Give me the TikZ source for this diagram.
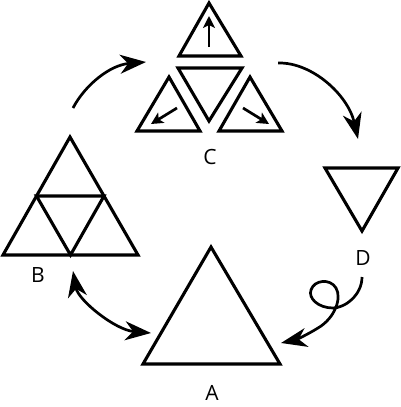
\documentclass[tikz,border=0pt]{standalone}
\usepackage{fontspec}
\setmainfont{Open Sans}
\usetikzlibrary{arrows.meta,calc}
\begin{document}
\begin{tikzpicture}[x=1pt,y=-1pt,
  tri/.style={line width=3.1pt,line join=miter},
  bighead/.tip={Stealth[length=26pt,width=19pt,inset=8pt]},
  bigarrow/.style={line width=2.7pt,-bighead},
  smallarrow/.style={line width=2.7pt,-{Stealth[length=12pt,width=12pt,inset=3pt]}},
  lbl/.style={font=\fontsize{21}{24}\selectfont,inner sep=0pt}]
\useasboundingbox (0,0) rectangle (400,407);
% A
\coordinate (A1) at (211,247); \coordinate (A2) at (143,364); \coordinate (A3) at (280,364);
\draw[tri] (A1) -- (A2) -- (A3) -- cycle;
\node[lbl] (la) at (212,393) {A};
% B
\coordinate (B1) at (70,137); \coordinate (B2) at (3,255); \coordinate (B3) at (138,255);
\draw[tri] (B1) -- (B2) -- (B3) -- cycle;
\draw[tri] ($(B1)!0.5!(B2)$) -- ($(B1)!0.5!(B3)$) -- ($(B2)!0.5!(B3)$) -- cycle;
\node[lbl] (lb) at (38,275) {B};
% C
\draw[tri] (209,3) -- (179,56) -- (241,56) -- cycle;
\draw[tri] (178,68) -- (242,68) -- (209,121) -- cycle;
\draw[tri] (169,77) -- (137,131) -- (200,131) -- cycle;
\draw[tri] (250,77) -- (219,131) -- (282,131) -- cycle;
\coordinate (u1) at (209,47); \coordinate (u2) at (209,16);
\coordinate (l1) at (177,108); \coordinate (l2) at (151,124);
\coordinate (r1) at (243,108); \coordinate (r2) at (269,124);
\draw[smallarrow] (u1) -- (u2);
\draw[smallarrow] (l1) -- (l2);
\draw[smallarrow] (r1) -- (r2);
\node[lbl] (lc) at (210,157) {C};
% D
\draw[tri] (325,168) -- (398,168) -- (362,231) -- cycle;
\node[lbl] (ld) at (363,258) {D};
% arrows
\coordinate (bc1) at (73,108); \coordinate (bc2) at (146,62);
\draw[bigarrow] (bc1) .. controls (85,85) and (110,65) .. (bc2);
\coordinate (cd1) at (278,63); \coordinate (cd2) at (358,139);
\draw[bigarrow] (cd1) .. controls (312,62) and (348,95) .. (cd2);
\coordinate (ab1) at (73,271); \coordinate (ab2) at (151,333);
\draw[line width=2.7pt,bighead-bighead] (ab1) .. controls (78,300) and (115,330) .. (ab2);
\coordinate (da1) at (362,277); \coordinate (da2) at (281,343);
\draw[bigarrow] (da1) .. controls (362,295) and (345,308) .. (333,308)
  .. controls (318,308) and (308,298) .. (311,290)
  .. controls (314,280) and (330,278) .. (336,288)
  .. controls (342,298) and (335,318) .. (318,328)
  .. controls (305,336) and (295,340) .. (da2);
\end{tikzpicture}
\end{document}
